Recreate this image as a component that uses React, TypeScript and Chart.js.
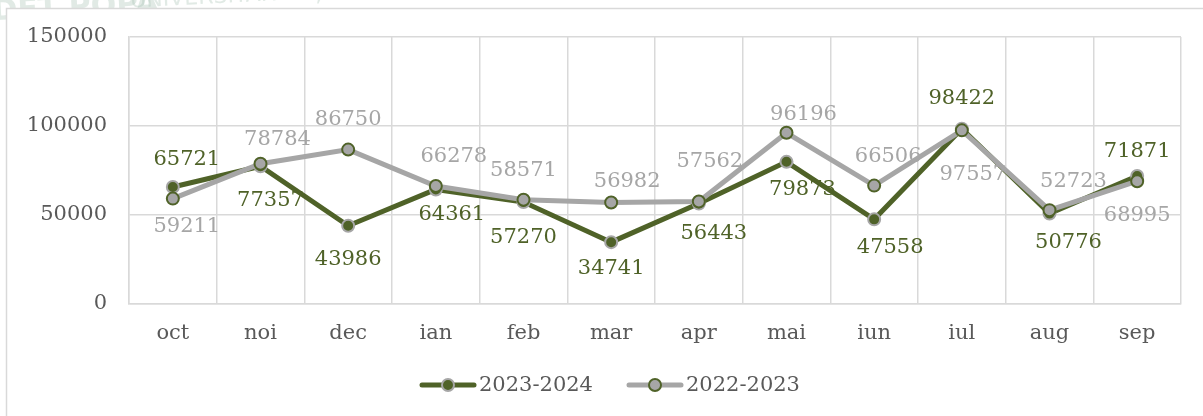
import React, { useEffect, useRef } from "react";
import { Chart, registerables } from "chart.js";

Chart.register(...registerables);

// ---- data ----
const months = ["oct", "noi", "dec", "ian", "feb", "mar", "apr", "mai", "iun", "iul", "aug", "sep"];
const series2324 = [65721, 77357, 43986, 64361, 57270, 34741, 56443, 79873, 47558, 98422, 50776, 71871];
const series2223 = [59211, 78784, 86750, 66278, 58571, 56982, 57562, 96196, 66506, 97557, 52723, 68995];
const yTickValues = [0, 50000, 100000, 150000];
const seriesNames = ["2023-2024", "2022-2023"];

// ---- styling ----
const GREEN = "#4F6228";
const GRAY = "#A6A6A6";
const GRID = "#D9D9D9";
const TICK = "#595959";
const FONT = "'DejaVu Serif', serif";

// label nudges relative to each point [dx, dy]
const nudge2324: [number, number][] = [
  [14, -27], [10, 34], [0, 34], [16, 25], [0, 35], [0, 26],
  [15, 30], [16, 28], [16, 28], [0, -30], [19, 29], [0, -25],
];
const nudge2223: [number, number][] = [
  [14, 28], [17, -24], [0, -30], [18, -29], [0, -29], [16, -21],
  [11, -40], [17, -18], [14, -29], [11, 44], [24, -29], [0, 34],
];

const framePlugin = {
  id: "frame",
  beforeDraw(chart: any) {
    const { ctx, width, height } = chart;
    ctx.save();
    ctx.fillStyle = "#ffffff";
    ctx.fillRect(0, 0, width, height);
    // faint watermark
    ctx.rotate(-0.05);
    ctx.fillStyle = "rgba(170,195,180,0.35)";
    ctx.font = "bold 30px 'DejaVu Sans', sans-serif";
    ctx.textBaseline = "alphabetic";
    ctx.fillText("DET POPA", -8, 20);
    ctx.font = "22px 'DejaVu Sans', sans-serif";
    ctx.fillText("UNIVERSITAR  IAȘI", 130, 14);
    ctx.restore();
    ctx.save();
    ctx.fillStyle = "#ffffff";
    ctx.fillRect(6, 8, width, height);
    ctx.strokeStyle = GRID;
    ctx.lineWidth = 1.5;
    ctx.strokeRect(6.5, 8.5, width + 10, height + 10);
    ctx.restore();
  },
};

const labelPlugin = {
  id: "valueLabels",
  afterDatasetsDraw(chart: any) {
    const { ctx } = chart;
    const cfg = [
      { idx: 0, color: GREEN, nudges: nudge2324 },
      { idx: 1, color: GRAY, nudges: nudge2223 },
    ];
    ctx.save();
    ctx.font = `21px ${FONT}`;
    ctx.textAlign = "center";
    ctx.textBaseline = "middle";
    cfg.forEach(({ idx, color, nudges }) => {
      const meta = chart.getDatasetMeta(idx);
      const data = chart.data.datasets[idx].data as number[];
      ctx.fillStyle = color;
      meta.data.forEach((pt: any, i: number) => {
        const [dx, dy] = nudges[i];
        ctx.fillText(String(data[i]), pt.x + dx, pt.y + dy);
      });
    });
    ctx.restore();
  },
};

const legendPlugin = {
  id: "customLegend",
  afterDraw(chart: any) {
    const { ctx } = chart;
    const y = 385;
    const items = [
      { x: 420, name: seriesNames[0], line: GREEN, fill: GREEN, border: GRAY },
      { x: 627, name: seriesNames[1], line: GRAY, fill: GRAY, border: GREEN },
    ];
    ctx.save();
    items.forEach((it) => {
      ctx.strokeStyle = it.line;
      ctx.lineWidth = 5;
      ctx.lineCap = "round";
      ctx.beginPath();
      ctx.moveTo(it.x + 2, y);
      ctx.lineTo(it.x + 54, y);
      ctx.stroke();
      ctx.beginPath();
      ctx.arc(it.x + 28, y, 6, 0, Math.PI * 2);
      ctx.fillStyle = it.fill;
      ctx.fill();
      ctx.strokeStyle = it.border;
      ctx.lineWidth = 2;
      ctx.stroke();
      ctx.fillStyle = TICK;
      ctx.font = `21px ${FONT}`;
      ctx.textAlign = "left";
      ctx.textBaseline = "middle";
      ctx.fillText(it.name, it.x + 59, y + 1);
    });
    ctx.restore();
  },
};

export default function App() {
  const canvasRef = useRef<HTMLCanvasElement | null>(null);

  useEffect(() => {
    document.body.style.margin = "0";
    const canvas = canvasRef.current;
    if (!canvas) return;
    const chart = new Chart(canvas, {
      type: "line",
      data: {
        labels: months,
        datasets: [
          {
            label: seriesNames[0],
            data: series2324,
            borderColor: GREEN,
            borderWidth: 5,
            pointRadius: 6,
            pointBackgroundColor: GREEN,
            pointBorderColor: GRAY,
            pointBorderWidth: 2,
            tension: 0,
            order: 1,
          },
          {
            label: seriesNames[1],
            data: series2223,
            borderColor: GRAY,
            borderWidth: 5,
            pointRadius: 6,
            pointBackgroundColor: GRAY,
            pointBorderColor: GREEN,
            pointBorderWidth: 2,
            tension: 0,
            order: 0,
          },
        ],
      },
      options: {
        responsive: false,
        animation: false,
        layout: { padding: { top: 37, right: 22, bottom: 62, left: 0 } },
        plugins: {
          legend: { display: false },
          tooltip: { enabled: false },
          title: { display: false },
        },
        scales: {
          x: {
            offset: true,
            grid: { offset: true, color: GRID, lineWidth: 1.5, drawTicks: false },
            border: { color: GRID, width: 1.5 },
            ticks: { color: TICK, font: { family: FONT, size: 21 }, padding: 17, maxRotation: 0 },
            afterFit: (s: any) => {
              s.height = 50;
            },
          },
          y: {
            min: 0,
            max: 150000,
            afterBuildTicks: (s: any) => {
              s.ticks = yTickValues.map((v) => ({ value: v }));
            },
            grid: { color: GRID, lineWidth: 1.5, drawTicks: false },
            border: { color: GRID, width: 1.5 },
            ticks: {
              color: TICK,
              font: { family: FONT, size: 21 },
              padding: 22,
              callback: (v: any) => String(v),
            },
            afterFit: (s: any) => {
              s.width = 129;
            },
          },
        },
      },
      plugins: [framePlugin, labelPlugin, legendPlugin],
    });
    return () => chart.destroy();
  }, []);

  return (
    <div style={{ width: 1203, height: 416 }}>
      <canvas ref={canvasRef} width={1203} height={416} style={{ display: "block" }} />
    </div>
  );
}
